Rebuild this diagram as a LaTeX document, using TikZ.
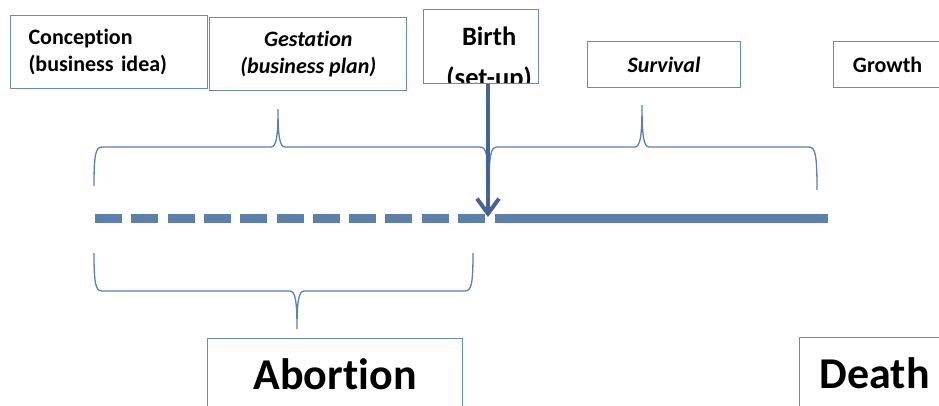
\documentclass[tikz,border=0pt]{standalone}
\usepackage{fontspec}
\setmainfont{Carlito}[Ligatures=NoCommon, Contextuals=NoAlternate]
\usepackage{tikz}
\usetikzlibrary{arrows.meta, positioning, calc}
\definecolor{boxblue}{RGB}{104,138,182}
\definecolor{lineblue}{RGB}{92,128,170}
\definecolor{arrowblue}{RGB}{70,100,146}
\tikzset{%
	stage/.style={draw=boxblue, line width=1.2pt, rectangle, inner sep=0pt, minimum height=73pt,%
		font=\bfseries\fontsize{22}{27}\selectfont},
	italicstage/.style={stage, font=\bfseries\itshape\fontsize{22}{27}\selectfont},
	fate/.style={draw=boxblue, line width=1.2pt, rectangle, minimum height=72pt,%
		font=\bfseries\fontsize{44}{52}\selectfont},
	birthtext/.style={font=\bfseries\fontsize{26.5}{32}\selectfont, anchor=base},
	bracket/.style={draw=lineblue, line width=1.3pt},
	premature/.style={draw=lineblue, line width=9pt, dash pattern=on 27pt off 9.3pt},
	alive/.style={draw=lineblue, line width=9pt},
	setup/.style={draw=arrowblue, line width=4pt, -{Straight Barb[length=15pt,width=22pt]}}
}
% left x, tip x, right x, bar y, end y, tip y
\newcommand{\phasebrace}[6]{%
	\draw[bracket] (#1,#5) .. controls (#1,{#4+0.2*(#5-#4)}) and ({#1+1.5},#4) .. ({#1+8},#4)
		-- ({#2-7},#4) .. controls ({#2-1.5},#4) and (#2,{#4+0.3*(#6-#4)}) .. (#2,#6)
		.. controls (#2,{#4+0.3*(#6-#4)}) and ({#2+1.5},#4) .. ({#2+7},#4)
		-- ({#3-8},#4) .. controls ({#3-1.5},#4) and (#3,{#4+0.2*(#5-#4)}) .. (#3,#5);
}

\begin{document}
\begin{tikzpicture}[x=1pt, y=-1pt]
	\clip (0,0) rectangle (939,405);

	\node[stage, anchor=north west, minimum width=197pt, text width=161pt, align=left] (conception) at (10,15) {Conception\\(business idea)};
	\node[italicstage, right=1pt of conception, yshift=-2pt, minimum width=197pt, align=center] (gestation) {Gestation\\(business plan)};
	\node[stage, anchor=north west, minimum width=115pt, minimum height=74pt,
		path picture={
			\node[birthtext] (birthname) at ($(path picture bounding box.north)+(8pt,-36pt)$) {Birth};
			\node[birthtext] (birthsub) at ($(path picture bounding box.north)+(8pt,-77pt)$) {(set-up)};
		}] (birth) at (423,9) {};
	\node[italicstage, anchor=north west, minimum width=153pt, minimum height=46pt] (survival) at (587,41) {Survival};
	\node[stage, anchor=north west, minimum width=108pt, minimum height=46pt] (growth) at (833,41) {Growth};
	\node[fate, anchor=north west, minimum width=255pt] (abortion) at (207,338) {Abortion};
	\node[fate, anchor=north west, minimum width=150pt] (death) at (799,337) {Death};

	% time line
	\coordinate (born) at (488,217);
	\coordinate (conceived) at (95,218.5);
	\coordinate (lastdash) at (485,218.5);
	\coordinate (launch) at (495,218.5);
	\coordinate (ended) at (828,218.5);
	\draw[premature] (conceived) -- (lastdash);
	\draw[alive] (launch) -- (ended);

	\phasebrace{94}{278}{488}{147}{186}{109}
	\phasebrace{489}{642}{817}{147}{190}{105}
	\phasebrace{94}{297}{473}{291}{253}{329}

	\draw[setup] (birth.south -| born) -- (born);
\end{tikzpicture}
\end{document}
